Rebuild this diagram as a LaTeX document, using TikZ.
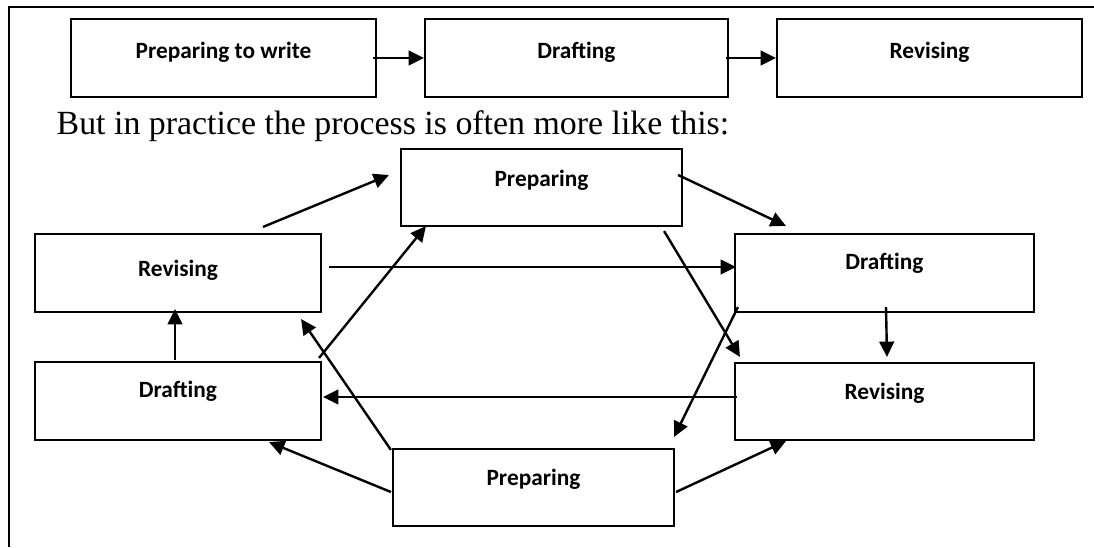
\documentclass[tikz,border=0pt]{standalone}
\usepackage{fontspec}
\setmainfont{Liberation Serif}
\newfontfamily\boxfont{Carlito}
\usetikzlibrary{arrows.meta,calc}

\newcommand{\px}{0.75pt}

\tikzset{
  frame/.style={line width=1.6pt},
  stage/.style={draw, line width=1.6pt, inner sep=0pt, minimum height=77*\px},
  stagetext/.style={font=\boxfont\bfseries\fontsize{17.5}{20}\selectfont},
  flow/.style={-{Triangle[length=11.5pt,width=11pt]}, line width=1.8pt}
}

\begin{document}
\begin{tikzpicture}[x=0.75pt, y=-0.75pt]
  \useasboundingbox (0,0) rectangle (1094,547);
  \draw[frame] (9,547) -- (9,7) -- (1094,7);

  % the tidy version
  \node[stage, minimum width=305*\px, minimum height=78*\px,
        label={[stagetext, yshift=4.5pt]center:Preparing to write}] (topPrep) at (223.5,58) {};
  \node[stage, minimum width=303*\px, minimum height=78*\px,
        label={[stagetext, yshift=4.5pt]center:Drafting}] (topDraft) at (576.5,58) {};
  \node[stage, minimum width=305*\px, minimum height=78*\px,
        label={[stagetext, yshift=4.5pt]center:Revising}] (topRev) at (929.5,58) {};

  \draw[flow] ($(topPrep.east)+(-4,0)$) -- (topDraft.west);
  \draw[flow] ($(topDraft.east)+(-3,0)$) -- (topRev.west);

  \node[anchor=base west, font=\fontsize{25.4}{30}\selectfont] (remark) at (52,134)
        {But in practice the process is often more like this:};

  % the messy version
  \node[stage, minimum width=281*\px,
        label={[stagetext, yshift=5.5pt]center:Preparing}] (prepT) at (541.5,187.5) {};
  \node[stage, minimum width=286*\px, minimum height=78*\px,
        label={[stagetext, yshift=2pt]center:Revising}] (revL) at (178,273) {};
  \node[stage, minimum width=299*\px, minimum height=78*\px,
        label={[stagetext, yshift=7pt]center:Drafting}] (draftR) at (884.5,273) {};
  \node[stage, minimum width=286*\px, minimum height=78*\px,
        label={[stagetext, yshift=7.5pt]center:Drafting}] (draftL) at (178,401) {};
  \node[stage, minimum width=299*\px,
        label={[stagetext, yshift=6pt]center:Revising}] (revR) at (884.5,401.5) {};
  \node[stage, minimum width=281*\px,
        label={[stagetext, yshift=6pt]center:Preparing}] (prepB) at (533.5,487.5) {};

  \draw[flow] ($(revL.north)+(85,-6)$) -- ($(prepT.west)+(-11,-12.5)$);
  \draw[flow] ($(prepT.east)+(-5,-12.5)$) -- ($(draftR.north west)+(52,-7)$);
  \draw[flow] ($(revL.east)+(7,-6)$) -- ($(draftR.west)+(2,-6)$);
  \draw[flow] ($(draftL.north east)+(-3,-3)$) -- ($(prepT.south west)+(26,-1)$);
  \draw[flow] ($(prepB.north west)+(-1,2)$) -- ($(revL.south east)+(-21,6)$);
  \draw[flow] ($(prepT.south east)+(-19,4)$) -- ($(revR.north west)+(6,-5)$);
  \draw[flow] ($(draftR.south west)+(4,-6)$) -- ($(prepB.north east)+(-1,-11)$);
  \draw[flow] ($(draftR.south)+(1.5,-6)$) -- ($(revR.north)+(2.5,-5)$);
  \draw[flow] ($(revR.west)+(3,-4.5)$) -- ($(draftL.east)+(1,-4)$);
  \draw[flow] ($(draftL.north)+(-3,-1)$) -- ($(revL.south)+(-3,-4)$);
  \draw[flow] ($(prepB.west)+(-1,4.5)$) -- ($(draftL.south east)+(-53,1)$);
  \draw[flow] ($(prepB.east)+(1,4.5)$) -- ($(revR.south west)+(52,0)$);
\end{tikzpicture}
\end{document}
